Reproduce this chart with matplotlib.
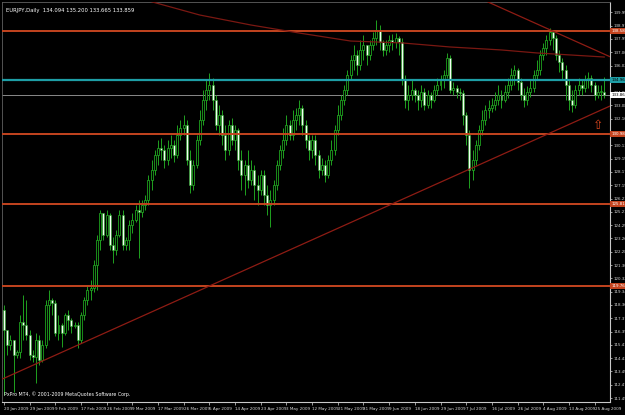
import matplotlib
matplotlib.use("Agg")
import matplotlib.pyplot as plt
import numpy as np

# EURJPY daily bars, 20 Jan 2009 .. 26 Aug 2009
closes = [116.51, 115.41, 115.78, 114.67, 114.89, 117.11, 116.88, 116.15, 114.67, 114.52,
          115.78, 114.30, 115.41, 118.36, 118.73, 118.51, 116.29, 116.88, 116.29, 117.62,
          117.25, 116.81, 116.88, 115.78, 117.62, 118.73, 119.47, 119.61, 121.31, 123.16,
          125.15, 123.52, 125.00, 122.79, 122.42, 123.52, 125.00, 122.79, 123.16, 124.26,
          124.63, 125.37, 125.22, 125.74, 126.11, 127.58, 128.32, 129.43, 129.95, 129.80,
          129.06, 129.95, 130.17, 129.43, 130.91, 131.42, 131.64, 129.06, 127.22, 128.69,
          130.54, 132.01, 133.49, 134.23, 134.60, 133.49, 131.64, 132.38, 130.91, 129.80,
          131.64, 130.54, 131.28, 129.06, 127.95, 128.69, 127.58, 128.32, 127.22, 126.85,
          127.95, 126.48, 125.74, 126.11, 127.22, 128.69, 129.80, 130.54, 131.64, 130.91,
          132.01, 132.38, 132.90, 131.64, 130.54, 129.80, 130.54, 129.43, 128.32, 128.69,
          127.95, 129.06, 129.80, 131.28, 132.38, 133.49, 134.23, 135.34, 136.44, 136.81,
          136.07, 137.18, 137.55, 136.81, 137.55, 138.07, 138.66, 137.77, 137.18, 137.55,
          137.92, 137.77, 138.07, 137.77, 134.97, 133.49, 133.86, 134.23, 133.86, 133.49,
          134.08, 133.12, 133.86, 133.49, 134.23, 134.60, 134.97, 135.34, 136.59, 134.23,
          134.38, 134.08, 134.01, 132.38, 130.91, 128.32, 129.06, 130.17, 131.28, 132.01,
          132.75, 132.90, 133.12, 133.49, 133.86, 133.49, 134.08, 134.60, 135.34, 135.70,
          134.82, 133.86, 133.49, 134.08, 134.38, 135.34, 135.70, 136.81, 137.33, 137.92,
          138.51, 138.07, 136.81, 136.29, 135.70, 134.60, 133.49, 133.12, 134.23, 134.60,
          134.38, 134.97, 135.11, 134.60, 133.86, 134.08, 134.09, 133.86]

highs = [118.36, 116.51, 116.15, 115.78, 115.04, 117.62, 119.10, 118.73, 116.51, 115.04,
         116.29, 116.15, 115.78, 118.73, 119.47, 118.88, 118.73, 117.62, 117.03, 117.77,
         117.99, 117.40, 117.11, 117.11, 117.84, 118.95, 119.84, 120.20, 121.68, 123.52,
         125.37, 125.15, 125.37, 125.15, 123.38, 123.89, 125.37, 125.37, 123.38, 124.63,
         125.15, 125.74, 126.11, 126.11, 126.48, 127.95, 129.06, 129.80, 130.54, 130.69,
         130.17, 130.54, 130.91, 130.54, 131.64, 132.01, 132.38, 132.01, 129.80, 129.06,
         130.91, 132.75, 134.23, 134.97, 135.48, 135.11, 133.86, 133.12, 132.75, 131.64,
         132.01, 132.16, 131.64, 131.42, 129.80, 129.06, 129.80, 129.06, 128.69, 127.95,
         128.32, 128.32, 127.22, 126.85, 127.58, 129.06, 130.17, 131.42, 132.38, 132.01,
         132.75, 132.90, 133.49, 133.12, 132.01, 130.91, 130.91, 130.91, 129.80, 129.21,
         129.06, 129.43, 130.54, 131.64, 133.12, 133.86, 134.60, 135.70, 136.81, 137.55,
         137.18, 137.92, 138.29, 137.55, 137.92, 138.51, 139.39, 139.02, 137.92, 137.92,
         138.29, 138.36, 138.43, 138.21, 138.07, 135.34, 134.60, 134.97, 134.38, 134.23,
         134.60, 134.38, 134.23, 134.08, 134.60, 135.11, 135.34, 135.70, 136.96, 136.81,
         134.82, 134.60, 134.38, 134.23, 132.60, 131.28, 129.80, 130.54, 131.64, 132.75,
         133.12, 133.49, 133.64, 134.08, 134.60, 134.23, 134.60, 135.11, 135.85, 136.07,
         135.85, 135.11, 134.38, 134.52, 134.97, 135.70, 136.44, 137.18, 137.70, 138.29,
         138.80, 138.66, 138.29, 137.18, 136.59, 136.07, 134.97, 134.23, 134.60, 135.11,
         134.97, 135.34, 135.56, 135.34, 134.82, 134.60, 134.60, 135.20]

lows = [111.72, 114.67, 115.04, 111.94, 114.45, 114.45, 115.78, 115.78, 114.30, 114.15,
        112.60, 113.93, 114.15, 115.19, 115.78, 117.62, 116.07, 115.78, 115.26, 116.15,
        116.51, 116.29, 116.66, 115.19, 115.56, 117.25, 118.36, 118.73, 119.32, 119.47,
        122.42, 123.16, 123.38, 122.42, 121.46, 122.05, 123.38, 122.42, 122.42, 122.42,
        123.67, 124.49, 121.83, 124.85, 125.37, 125.74, 126.85, 127.95, 128.69, 129.06,
        128.47, 128.69, 129.21, 128.91, 129.21, 130.54, 130.91, 128.69, 126.63, 126.85,
        128.47, 130.17, 131.64, 132.75, 133.49, 132.75, 131.28, 130.91, 130.17, 129.06,
        129.43, 130.17, 129.80, 128.32, 126.85, 126.48, 126.99, 127.22, 126.11, 125.74,
        126.48, 125.74, 125.00, 124.12, 125.74, 126.85, 128.32, 129.21, 130.17, 130.54,
        130.54, 131.28, 131.64, 130.91, 129.95, 129.06, 129.21, 128.69, 127.73, 127.95,
        127.44, 127.73, 128.69, 129.43, 130.91, 132.01, 133.12, 133.86, 134.97, 135.70,
        135.34, 135.70, 136.44, 136.07, 136.44, 137.18, 137.55, 137.18, 136.74, 136.81,
        137.03, 137.18, 137.33, 136.81, 134.60, 132.90, 132.75, 133.49, 133.34, 132.75,
        132.97, 132.75, 132.90, 132.90, 133.34, 133.86, 134.23, 134.38, 135.11, 134.01,
        133.86, 133.64, 133.49, 131.64, 130.17, 126.99, 127.58, 128.69, 129.80, 130.91,
        131.64, 132.16, 132.60, 132.75, 133.12, 132.90, 133.34, 133.64, 134.23, 134.60,
        134.23, 133.49, 132.97, 133.12, 133.71, 134.08, 134.97, 135.34, 136.44, 136.81,
        137.55, 137.18, 136.44, 135.56, 134.97, 133.49, 132.75, 132.60, 132.90, 133.86,
        133.86, 134.08, 134.38, 134.08, 133.49, 133.64, 133.49, 133.67]

first_open = 118.00

# horizontal levels drawn on the chart
red_levels = [138.58, 130.98, 125.81, 119.76]
cyan_level = 134.96
bid_price = 133.86

# trendlines: (bar, price) anchor pairs
support_line = [(0, 112.95), (187, 132.85)]
resistance_line = [(149.4, 140.87), (170, 138.68)]

# slow moving average, read at a few bars
ma_bars = [44, 61, 77, 92, 108, 124, 139, 155, 166, 187]
ma_values = [140.87, 139.76, 139.02, 138.43, 137.84, 137.70, 137.40, 137.18, 136.96, 136.66]

arrow_bar, arrow_price = 185, 131.64

date_bars = list(range(0, 188, 8))
date_labels = ["20 Jan 2009", "29 Jan 2009", "9 Feb 2009", "17 Feb 2009", "26 Feb 2009",
               "9 Mar 2009", "17 Mar 2009", "26 Mar 2009", "5 Apr 2009", "14 Apr 2009",
               "23 Apr 2009", "3 May 2009", "12 May 2009", "21 May 2009", "31 May 2009",
               "9 Jun 2009", "18 Jun 2009", "29 Jun 2009", "7 Jul 2009", "16 Jul 2009",
               "26 Jul 2009", "4 Aug 2009", "13 Aug 2009", "25 Aug 2009"]

title_text = "EURJPY,Daily  134.094 135.200 133.665 133.859"
copyright_text = "PxPro MT4, \u00a9 2001-2009 MetaQuotes Software Corp."

# --- figure ---
fig = plt.figure(figsize=(6.25, 4.15), dpi=100, facecolor="black")
ax = fig.add_axes([2 / 625, 13 / 415, 608 / 625, 400 / 415])
ax.set_facecolor("black")
ax.set_xlim(-0.6, 188.8)
ax.set_ylim(111.2, 140.72)

opens = [first_open] + closes[:-1]
x = np.arange(len(closes))
o = np.array(opens)
c = np.array(closes)

candle_green = "#1fa21f"
ax.vlines(x, lows, highs, color=candle_green, linewidth=0.7, zorder=3)
bear = c < o
body_bottom = np.minimum(o, c)
body_height = np.maximum(np.abs(c - o), 0.04)
ax.bar(x[~bear], body_height[~bear], bottom=body_bottom[~bear], width=0.62,
       color="black", edgecolor=candle_green, linewidth=0.6, zorder=4)
ax.bar(x[bear], body_height[bear], bottom=body_bottom[bear], width=0.62,
       color="#f2fff2", edgecolor=candle_green, linewidth=0.4, zorder=4)

# levels
for lvl in red_levels:
    ax.axhline(lvl, color="#c4441f", linewidth=1.4, zorder=5)
ax.axhline(cyan_level, color="#1e9ea6", linewidth=1.6, zorder=5)
ax.axhline(bid_price, color="#8a8a8a", linewidth=0.7, zorder=2)

# trendlines and MA
ax.axline(support_line[0], support_line[1], color="#8e1c14", linewidth=0.9, zorder=5)
ax.axline(resistance_line[0], resistance_line[1], color="#8e1c14", linewidth=0.9, zorder=5)
ax.plot(ma_bars, ma_values, color="#7a1812", linewidth=0.9, zorder=5)

ax.text(arrow_bar, arrow_price, "\u21e7", color="#d8461e", fontsize=9,
        ha="center", va="center", zorder=6)

# axes styling
for side in ["top", "left"]:
    ax.spines[side].set_color("#606060")
    ax.spines[side].set_linewidth(0.6)
for side in ["bottom", "right"]:
    ax.spines[side].set_color("#c8c8c8")
    ax.spines[side].set_linewidth(0.8)

price_ticks = np.round(111.49 + 0.9815 * np.arange(30), 3)
ax.yaxis.tick_right()
ax.set_yticks(price_ticks)
ax.set_yticklabels([f"{t:.3f}" for t in price_ticks])
ax.tick_params(axis="y", colors="#d8d8d8", labelsize=2.9, length=1.5, width=0.5, pad=0.8)

ax.set_xticks(date_bars)
ax.set_xticklabels(date_labels, ha="left")
ax.tick_params(axis="x", colors="#d8d8d8", labelsize=3.0, length=2, width=0.5, pad=1.5)

# price boxes on the right scale
yt = ax.get_yaxis_transform()
box_kw = dict(transform=yt, fontsize=2.9, va="center", ha="left", zorder=7)
for lvl in red_levels:
    ax.text(1.002, lvl, f"{lvl:.3f}", color="white",
            bbox=dict(boxstyle="square,pad=0.25", fc="#c4441f", ec="none"), **box_kw)
ax.text(1.002, cyan_level, f"{cyan_level:.3f}", color="black",
        bbox=dict(boxstyle="square,pad=0.25", fc="#1e9ea6", ec="none"), **box_kw)
ax.text(1.002, bid_price, f"{bid_price:.3f}", color="black",
        bbox=dict(boxstyle="square,pad=0.25", fc="white", ec="none"), **box_kw)

ax.text(0.006, 0.985, title_text, transform=ax.transAxes, color="white",
        fontsize=3.8, va="top", ha="left", zorder=8)
ax.text(0.004, 0.012, copyright_text, transform=ax.transAxes, color="white",
        fontsize=3.4, va="bottom", ha="left", zorder=8)

fig.savefig("out.png", dpi=100, facecolor="black")
